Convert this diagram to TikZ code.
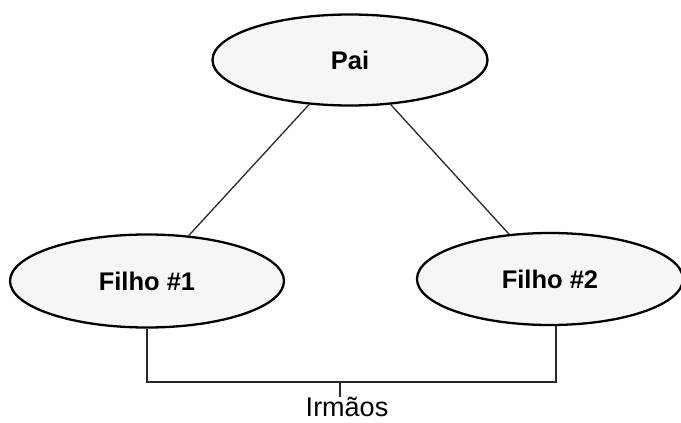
\documentclass[tikz,border=0pt]{standalone}
\usepackage{fontspec}
\setmainfont{Liberation Sans}
\usepackage{tikz}
\usetikzlibrary{shapes.geometric, positioning, calc}
\definecolor{bubblecolor}{RGB}{246, 246, 246}
\definecolor{linkcolor}{RGB}{40, 40, 40}

\begin{document}
\begin{tikzpicture}[
    x=1pt, y=-1pt,
    person/.style={draw, ellipse, line width=2.3pt, fill=bubblecolor, inner sep=0pt, minimum width=272pt, minimum height=92pt, font=\fontsize{25.5}{30}\selectfont\bfseries},
    link/.style={draw=linkcolor, line width=1.3pt},
]
    \useasboundingbox (0, 0) rectangle (681, 423);

    % Family
    \node[person, minimum width=275pt, minimum height=91pt] (pai) at (350, 60) {Pai};
    \node[person, minimum width=274pt, minimum height=93pt] (filho1) at (147, 281) {Filho \#1};
    \node[person, minimum width=266pt, minimum height=92pt] (filho2) at (550, 279) {Filho \#2};

    % Parent links
    \draw[link] (pai) -- (filho1);
    \draw[link] (pai) -- (filho2);

    % Siblings bracket
    \coordinate (left) at (147, 382);
    \coordinate (right) at (556, 382);
    \coordinate (mid) at (340, 382);
    \node[anchor=north, inner sep=0pt, font=\fontsize{27}{32}\selectfont] (irmaos) at (347, 397) {Irmãos};
    \draw[link] (filho1.south) -- (left) -- (right) -- (right |- filho2.south);
    \draw[link] (mid) -- (mid |- irmaos.north);

\end{tikzpicture}
\end{document}
